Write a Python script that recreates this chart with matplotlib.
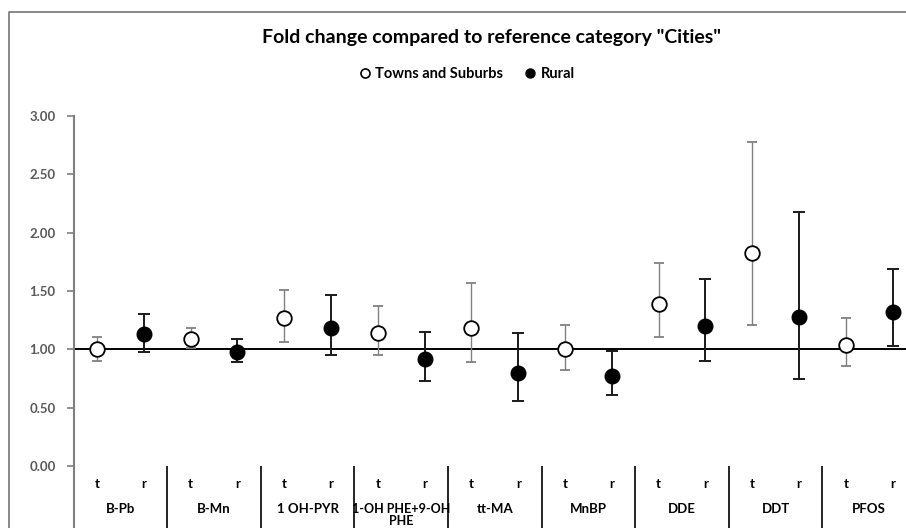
import numpy as np
import matplotlib.pyplot as plt
from matplotlib.lines import Line2D

plt.rcParams['font.family'] = ['Lato', 'DejaVu Sans']

categories = ["B-Pb", "B-Mn", "1 OH-PYR", "1-OH PHE+9-OH\nPHE", "tt-MA",
              "MnBP", "DDE", "DDT", "PFOS"]
towns = [1.00, 1.09, 1.27, 1.14, 1.18, 1.00, 1.39, 1.83, 1.04]
towns_lo = [0.90, 1.01, 1.06, 0.95, 0.89, 0.82, 1.11, 1.21, 0.86]
towns_hi = [1.11, 1.18, 1.51, 1.37, 1.57, 1.21, 1.74, 2.78, 1.27]
rural = [1.13, 0.98, 1.18, 0.92, 0.80, 0.77, 1.20, 1.28, 1.32]
rural_lo = [0.98, 0.89, 0.95, 0.73, 0.56, 0.61, 0.90, 0.75, 1.03]
rural_hi = [1.30, 1.09, 1.47, 1.15, 1.14, 0.99, 1.60, 2.18, 1.69]
yticks = [0.0, 0.5, 1.0, 1.5, 2.0, 2.5, 3.0]

towns = np.array(towns)
rural = np.array(rural)
n = len(categories)
idx = np.arange(n)
xt = idx + 0.25
xr = idx + 0.75

W, H = 906, 528
fig = plt.figure(figsize=(W / 100, H / 100), dpi=100)
# outer chart frame (left and top edges; the rest is beyond the picture)
fig.add_artist(Line2D([9 / W, 9 / W, 1.0], [0, 1 - 12 / H, 1 - 12 / H],
                      transform=fig.transFigure, color='#7f7f7f', linewidth=1.3))

ax = fig.add_axes([73.6 / W, 0, 842.4 / W, 412 / H])
ax.set_xlim(0, n)
ax.set_ylim(3.0 - 412 / 116.67, 3.0)

ax.axhline(1.0, color='black', linewidth=1.4, zorder=1)

ax.errorbar(xt, towns, yerr=[towns - towns_lo, np.array(towns_hi) - towns],
            fmt='o', color='#808080', ecolor='#808080', elinewidth=1.0, capsize=3.5,
            capthick=1.0, markersize=10.5, markerfacecolor='white',
            markeredgecolor='black', markeredgewidth=1.3, zorder=3)
ax.errorbar(xr, rural, yerr=[rural - rural_lo, np.array(rural_hi) - rural],
            fmt='o', color='black', ecolor='#1a1a1a', elinewidth=1.4, capsize=4,
            capthick=1.4, markersize=10.5, markerfacecolor='black',
            markeredgecolor='black', zorder=3)

# category axis below 0
ax.vlines(idx[1:], ax.get_ylim()[0], 0, color='black', linewidth=1.2)
for i in idx:
    ax.text(i + 0.25, -0.155, 't', ha='center', va='center', fontsize=9.5, fontweight='bold')
    ax.text(i + 0.75, -0.155, 'r', ha='center', va='center', fontsize=9.5, fontweight='bold')
    fs = 9.0 if '\n' in categories[i] else 9.5
    ax.text(i + 0.5, -0.32, categories[i], ha='center', va='top', fontsize=fs,
            fontweight='bold', linespacing=0.95)

ax.set_yticks(yticks)
ax.set_yticklabels([f"{v:.2f}" for v in yticks], color='#595959', fontsize=9.5,
                   fontweight='bold')
ax.tick_params(axis='y', direction='out', length=5, width=1.2, color='#7f7f7f', pad=8)
ax.set_xticks([])
for s in ['top', 'right', 'bottom']:
    ax.spines[s].set_visible(False)
ax.spines['left'].set_color('#7f7f7f')
ax.spines['left'].set_linewidth(1.5)

fig.text(492 / W, 1 - 37 / H, 'Fold change compared to reference category "Cities"',
         ha='center', va='center', fontsize=14, fontweight='bold')
handles = [Line2D([], [], linestyle='none', marker='o', markersize=6.5, markerfacecolor='white',
                  markeredgecolor='black', markeredgewidth=1.2),
           Line2D([], [], linestyle='none', marker='o', markersize=6.5, markerfacecolor='black',
                  markeredgecolor='black')]
fig.legend(handles, ['Towns and Suburbs', 'Rural'], loc='center', ncol=2,
           bbox_to_anchor=(466 / W, 1 - 74 / H), frameon=False, handletextpad=0.25,
           columnspacing=1.3, prop={'weight': 'bold', 'size': 10.5}, handlelength=1.0)

fig.savefig('out.png', dpi=100)
